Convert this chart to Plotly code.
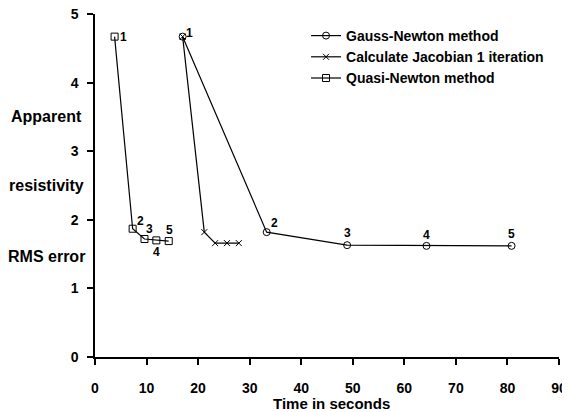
import plotly.graph_objects as go

# Iteration times (s) and apparent resistivity RMS error
quasi_time = [3.8, 7.3, 9.6, 11.9, 14.3]
quasi_rms = [4.67, 1.87, 1.72, 1.70, 1.69]

gauss_time = [17.0, 33.3, 48.9, 64.3, 80.8]
gauss_rms = [4.67, 1.82, 1.63, 1.62, 1.62]

jacob_time = [17.0, 21.2, 23.3, 25.6, 27.9]
jacob_rms = [4.67, 1.82, 1.66, 1.66, 1.66]

iter_labels = ["1", "2", "3", "4", "5"]
# label offsets in px (x, y) for each iteration number
quasi_shift = [(9, 0), (8, 8), (5, 10), (0, -12), (1, 11)]
gauss_shift = [(7, 4), (8, 9), (0, 12), (0, 11), (0, 12)]

FONT = "Liberation Sans, Arial, sans-serif"

fig = go.Figure()

fig.add_trace(go.Scatter(
    x=gauss_time, y=gauss_rms, mode="lines+markers",
    name="Gauss-Newton method",
    line=dict(color="black", width=1.2),
    marker=dict(symbol="circle-open", size=7, color="black", line=dict(width=1)),
))
fig.add_trace(go.Scatter(
    x=jacob_time, y=jacob_rms, mode="lines+markers",
    name="Calculate Jacobian 1 iteration",
    line=dict(color="black", width=1.2),
    marker=dict(symbol="x-thin-open", size=6, color="black", line=dict(width=1, color="black")),
))
fig.add_trace(go.Scatter(
    x=quasi_time, y=quasi_rms, mode="lines+markers",
    name="Quasi-Newton method",
    line=dict(color="black", width=1.2),
    marker=dict(symbol="square-open", size=7, color="black", line=dict(width=1)),
))

# iteration number labels
for xs, ys, shifts in [(quasi_time, quasi_rms, quasi_shift), (gauss_time, gauss_rms, gauss_shift)]:
    for x, y, lab, (dx, dy) in zip(xs, ys, iter_labels, shifts):
        fig.add_annotation(x=x, y=y, text=lab, showarrow=False,
                           xshift=dx, yshift=dy,
                           font=dict(size=12, color="black", family=FONT, weight="bold"))

# plot area in page pixels (page body adds an 8px offset)
PL, PR, PT, PB = 94.7, 559.3, 14, 356.7
PW, PH = PR - PL, PB - PT

# y axis title split over three lines between tick labels
for txt, ypx in [("Apparent", 116.7), ("resistivity", 185), ("RMS error", 256.7)]:
    fig.add_annotation(xref="paper", yref="paper",
                       x=(46 - PL) / PW, y=(PB - ypx) / PH,
                       text=txt, showarrow=False, xanchor="center", yanchor="middle",
                       font=dict(size=16, color="black", family=FONT, weight="bold"))

fig.add_annotation(xref="paper", yref="paper", x=(332 - PL) / PW, y=(PB - 403) / PH,
                   text="Time in seconds", showarrow=False,
                   xanchor="center", yanchor="middle",
                   font=dict(size=15, color="black", family=FONT, weight="bold"))

axis_style = dict(
    showgrid=False, zeroline=False, showline=True, linecolor="black", linewidth=1.5,
    ticks="outside", ticklen=6, tickwidth=1.5, tickcolor="black",
    ticklabeloverflow="allow", automargin=False,
    tickfont=dict(size=14, color="black", family=FONT, weight="bold"),
)

fig.update_xaxes(range=[0, 90], dtick=10, ticklabelstandoff=11, **axis_style)
fig.update_yaxes(range=[0, 5], dtick=1, ticklabelstandoff=6, **axis_style)

fig.update_layout(
    width=562, height=404,
    margin=dict(l=PL - 8, r=570 - PR, t=PT - 8, b=412 - PB, autoexpand=False),
    plot_bgcolor="white", paper_bgcolor="white",
    font=dict(family=FONT, color="black"),
    legend=dict(x=(306 - PL) / PW, y=(PB - 20) / PH, xanchor="left", yanchor="top",
                bgcolor="rgba(0,0,0,0)", tracegroupgap=0,
                font=dict(size=14, color="black", family=FONT, weight="bold")),
)

fig.write_html("out.html")
